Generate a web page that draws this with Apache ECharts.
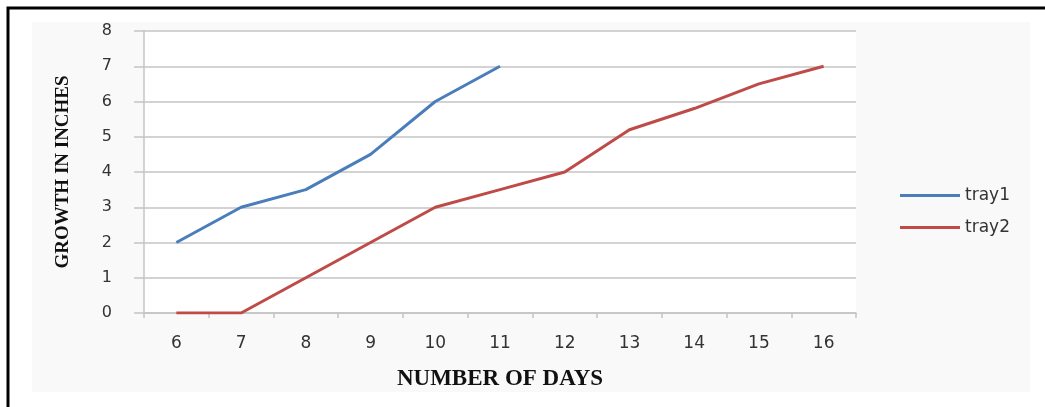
<!DOCTYPE html>
<html>
<head>
<meta charset="utf-8">
<script src="https://cdn.jsdelivr.net/npm/echarts@6/dist/echarts.min.js"></script>
<style>
html,body{margin:0;padding:0;background:#fff;}
#chart{width:1045px;height:407px;}
</style>
</head>
<body>
<div id="chart"></div>
<script>
const days = ['6','7','8','9','10','11','12','13','14','15','16'];
const tray1 = [2, 3, 3.5, 4.5, 6, 7, null, null, null, null, null];
const tray2 = [0, 0, 1, 2, 3, 3.5, 4, 5.2, 5.8, 6.5, 7];
const yTicks = { min: 0, max: 8, interval: 1 };

const chart = echarts.init(document.getElementById('chart'), null, {renderer: 'canvas'});
const gridColor = '#c4c4c4';
chart.setOption({
  animation: false,
  backgroundColor: '#ffffff',
  graphic: [
    { type: 'rect', z: -10, silent: true,
      shape: { x: 32, y: 22, width: 998, height: 370 },
      style: { fill: '#f9f9f9' } },
    { type: 'rect', z: -9, silent: true,
      shape: { x: 8, y: 8, width: 1060, height: 420 },
      style: { fill: null, stroke: '#000', lineWidth: 3 } }
  ],
  grid: { left: 144, right: 189, top: 31, bottom: 94, backgroundColor: '#ffffff', show: true, borderWidth: 0 },
  legend: {
    orient: 'vertical', left: 895, top: 182, itemGap: 15,
    itemWidth: 60, itemHeight: 3, icon: 'rect',
    textStyle: { fontFamily: 'DejaVu Sans', fontSize: 17, color: '#333' },
    data: ['tray1', 'tray2']
  },
  xAxis: {
    type: 'category', data: days, boundaryGap: true,
    name: 'NUMBER OF DAYS', nameLocation: 'middle', nameGap: 55,
    nameTextStyle: { fontFamily: 'Liberation Serif', fontWeight: 'bold', fontSize: 23, color: '#111' },
    axisLine: { lineStyle: { color: gridColor, width: 1.5 } },
    axisTick: { show: true, length: 5, lineStyle: { color: gridColor, width: 1.5 } },
    axisLabel: { fontFamily: 'DejaVu Sans', fontSize: 17, color: '#333', margin: 22 }
  },
  yAxis: {
    type: 'value', min: yTicks.min, max: yTicks.max, interval: yTicks.interval,
    name: 'GROWTH IN INCHES', nameLocation: 'middle', nameGap: 71,
    nameTextStyle: { fontFamily: 'Liberation Serif', fontWeight: 'bold', fontSize: 19, color: '#111' },
    axisLine: { show: true, lineStyle: { color: gridColor, width: 1.5 } },
    axisTick: { show: true, length: 10, lineStyle: { color: gridColor, width: 1.5 } },
    splitLine: { lineStyle: { color: gridColor, width: 1.5 } },
    axisLabel: { fontFamily: 'DejaVu Sans', fontSize: 16, color: '#333', margin: 32 }
  },
  series: [
    { name: 'tray1', type: 'line', data: tray1, showSymbol: false, symbol: 'none',
      lineStyle: { color: '#4a7ebb', width: 3 }, itemStyle: { color: '#4a7ebb' } },
    { name: 'tray2', type: 'line', data: tray2, showSymbol: false, symbol: 'none',
      lineStyle: { color: '#be4b48', width: 3 }, itemStyle: { color: '#be4b48' } }
  ]
});
</script>
</body>
</html>
